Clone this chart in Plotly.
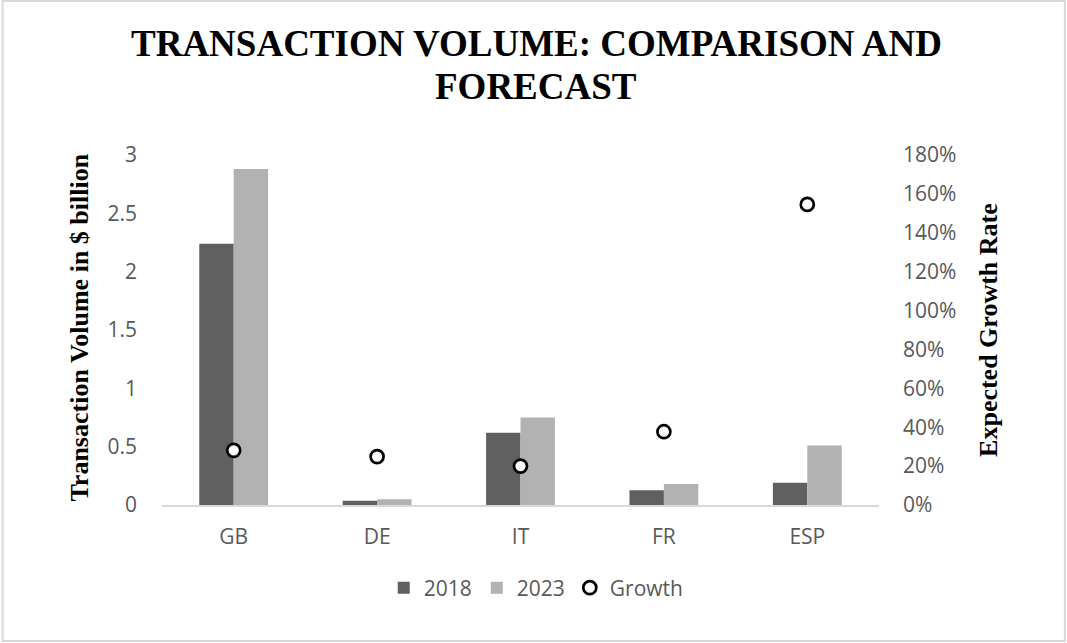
import plotly.graph_objects as go

# Markets and transaction volumes ($ billion)
countries = ["GB", "DE", "IT", "FR", "ESP"]
volume_2018 = [2.24, 0.037, 0.62, 0.126, 0.19]
volume_2023 = [2.88, 0.05, 0.75, 0.18, 0.51]
# Expected growth rate (fraction)
growth = [0.281, 0.249, 0.20, 0.377, 1.546]

left_ticks = [0, 0.5, 1, 1.5, 2, 2.5, 3]
left_tick_text = ["0", "0.5", "1", "1.5", "2", "2.5", "3"]
right_ticks = [0, 0.2, 0.4, 0.6, 0.8, 1.0, 1.2, 1.4, 1.6, 1.8]
right_tick_text = ["0%", "20%", "40%", "60%", "80%", "100%", "120%", "140%", "160%", "180%"]

W, H = 1067, 643
ML, MR, MT, MB = 161.5, 188, 155, 138
PW, PH = W - ML - MR, H - MT - MB

tick_font = dict(family="Open Sans, sans-serif", size=21, color="#595959")
serif_bold = "Liberation Serif, Times New Roman, serif"


def px_x(px):
    # pixel column -> plot-relative paper x
    return (px - ML) / PW


def px_y(py):
    # pixel row -> plot-relative paper y
    return (H - MB - py) / PH


fig = go.Figure()
fig.add_trace(go.Bar(
    x=countries, y=volume_2018, name="2018",
    marker=dict(color="#606060", line=dict(width=0)),
))
fig.add_trace(go.Bar(
    x=countries, y=volume_2023, name="2023",
    marker=dict(color="#b2b2b2", line=dict(width=0)),
))
fig.add_trace(go.Scatter(
    x=countries, y=growth, name="Growth", yaxis="y2", mode="markers",
    marker=dict(symbol="circle", size=13, color="white",
                line=dict(color="black", width=2.7)),
))

# Light grey frame around the whole chart
fig.add_shape(
    type="rect", xref="paper", yref="paper", layer="below",
    x0=px_x(2), x1=px_x(1065), y0=px_y(641), y1=px_y(1),
    line=dict(color="#d9d9d9", width=2), fillcolor="rgba(0,0,0,0)",
)

title_lines = ["TRANSACTION VOLUME: COMPARISON AND", "FORECAST"]
title_rows = [44, 87]
annotations = []
for line, row in zip(title_lines, title_rows):
    annotations.append(dict(
        text=f"<b>{line}</b>", xref="paper", yref="paper",
        x=px_x(536), y=px_y(row), xanchor="center", yanchor="middle",
        showarrow=False, font=dict(family=serif_bold, size=37, color="black"),
    ))
annotations.append(dict(
    text="<b>Transaction Volume in $ billion</b>", xref="paper", yref="paper",
    x=px_x(78), y=px_y(328), xanchor="center", yanchor="middle",
    textangle=-90, showarrow=False,
    font=dict(family=serif_bold, size=26, color="black"),
))
annotations.append(dict(
    text="<b>Expected Growth Rate</b>", xref="paper", yref="paper",
    x=px_x(988), y=px_y(330), xanchor="center", yanchor="middle",
    textangle=-90, showarrow=False,
    font=dict(family=serif_bold, size=26, color="black"),
))

fig.update_layout(
    width=W, height=H,
    margin=dict(l=ML, r=MR, t=MT, b=MB),
    paper_bgcolor="white", plot_bgcolor="white",
    barmode="group", bargap=0.52, bargroupgap=0,
    annotations=annotations,
    xaxis=dict(
        showline=True, linecolor="#d9d9d9", linewidth=1.5,
        showgrid=False, ticks="", tickfont=tick_font,
        ticklabelstandoff=12,
    ),
    yaxis=dict(
        range=[0, 3], tickvals=left_ticks, ticktext=left_tick_text,
        showgrid=False, zeroline=False, showline=False, ticks="",
        tickfont=tick_font, ticklabelstandoff=24,
    ),
    yaxis2=dict(
        range=[0, 1.8], tickvals=right_ticks, ticktext=right_tick_text,
        overlaying="y", side="right",
        showgrid=False, zeroline=False, showline=False, ticks="",
        tickfont=tick_font, ticklabelstandoff=23,
    ),
    legend=dict(
        orientation="h", x=px_x(536), xanchor="center",
        y=px_y(588), yanchor="middle",
        font=tick_font, itemwidth=30, traceorder="normal",
    ),
)

fig.write_html("out.html")
